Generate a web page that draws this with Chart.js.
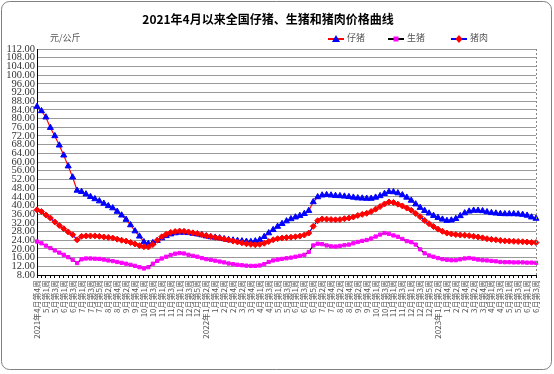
<!DOCTYPE html>
<html>
<head>
<meta charset="utf-8">
<script src="https://cdn.jsdelivr.net/npm/chart.js"></script>
<style>
  html, body { margin: 0; padding: 0; background: #fff; }
  #wrap { width: 554px; height: 374px; }
</style>
</head>
<body>
<div id="wrap"><canvas id="pigChart" width="554" height="374"></canvas></div>
<script>
// Week categories: [year, month, first week, last week]
const monthSpans = [
  [2021, 4, 4, 5], [2021, 5, 1, 4], [2021, 6, 1, 4], [2021, 7, 1, 5], [2021, 8, 1, 4],
  [2021, 9, 1, 5], [2021, 10, 1, 4], [2021, 11, 1, 4], [2021, 12, 1, 5],
  [2022, 1, 1, 4], [2022, 2, 1, 4], [2022, 3, 1, 5], [2022, 4, 1, 4], [2022, 5, 1, 4],
  [2022, 6, 1, 5], [2022, 7, 1, 4], [2022, 8, 1, 4], [2022, 9, 1, 5], [2022, 10, 1, 4],
  [2022, 11, 1, 4], [2022, 12, 1, 5],
  [2023, 1, 1, 4], [2023, 2, 1, 4], [2023, 3, 1, 5], [2023, 4, 1, 4], [2023, 5, 1, 4],
  [2023, 6, 1, 3]
];

const weeks = [];
monthSpans.forEach(([y, m, w0, w1]) => {
  for (let w = w0; w <= w1; w++) {
    const withYear = weeks.length === 0 || (m === 1 && w === 2);
    weeks.push((withYear ? y + '年' : '') + m + '月第' + w + '周');
  }
});

// 仔猪 (yuan/kg)
const pigletPrice = [
  85.5, 83.5, 80.6, 75.8, 72.0, 67.7, 63.1, 58.1, 53.0, 46.9,
  46.3, 45.2, 44.0, 43.0, 42.0, 40.9, 39.8, 38.8, 37.2, 35.5,
  33.5, 31.0, 28.2, 25.8, 23.2, 22.4, 22.8, 23.8, 25.0, 26.0,
  26.8, 27.3, 27.6, 27.6, 27.4, 27.1, 26.8, 26.4, 25.9, 25.5,
  25.3, 25.0, 24.6, 24.2, 24.0, 23.8, 23.6, 23.4, 23.3, 23.6,
  24.2, 25.6, 27.3, 28.8, 30.3, 31.6, 32.8, 33.8, 34.6, 35.3,
  36.2, 37.6, 41.6, 43.9, 44.7, 44.9, 44.7, 44.5, 44.4, 44.2,
  44.0, 43.7, 43.4, 43.3, 43.2, 43.2, 43.7, 44.4, 45.4, 46.3,
  46.2, 45.7, 44.8, 43.7, 42.3, 40.6, 39.0, 37.6, 36.4, 35.3,
  34.4, 33.6, 33.0, 33.2, 33.9, 35.2, 36.5, 37.3, 37.7, 37.7,
  37.5, 37.0, 36.6, 36.4, 36.2, 36.1, 36.1, 36.1, 36.0, 35.8,
  35.4, 34.6, 34.0
];

// 生猪
const hogPrice = [
  23.4, 22.6, 21.5, 20.4, 19.3, 18.3, 17.3, 16.2, 15.0, 13.5,
  15.2, 15.6, 15.6, 15.5, 15.4, 15.1, 14.7, 14.4, 14.0, 13.6,
  13.2, 12.7, 12.2, 11.6, 11.0, 11.6, 13.2, 14.5, 15.6, 16.4,
  17.2, 17.8, 18.1, 17.9, 17.3, 16.8, 16.4, 15.8, 15.3, 15.0,
  14.6, 14.2, 13.8, 13.3, 13.0, 12.7, 12.5, 12.3, 12.2, 12.2,
  12.4, 13.0, 14.0, 14.7, 15.1, 15.4, 15.7, 16.0, 16.4, 16.8,
  17.3, 18.6, 21.6, 22.4, 22.2, 21.6, 21.2, 21.1, 21.4, 21.7,
  22.0, 22.6, 23.2, 23.7, 24.1, 24.8, 25.7, 26.6, 27.3, 26.9,
  26.2, 25.6, 24.6, 23.6, 23.1, 22.0, 19.8, 18.0, 17.0, 16.4,
  15.8, 15.3, 15.0, 14.8, 14.8, 15.2, 15.6, 15.8, 15.5, 15.1,
  14.8, 14.7, 14.5, 14.3, 14.0, 13.9, 13.9, 13.8, 13.8, 13.8,
  13.7, 13.7, 13.6
];

// 猪肉
const porkPrice = [
  38.0, 37.2, 35.6, 34.2, 32.4, 30.8, 29.3, 27.8, 26.5, 24.2,
  25.8, 26.0, 26.0, 26.0, 25.8, 25.5, 25.3, 25.0, 24.5, 24.0,
  23.6, 23.0, 22.3, 21.5, 21.0, 20.9, 22.0, 24.0, 25.6, 26.8,
  27.6, 28.0, 28.2, 28.1, 27.8, 27.4, 27.0, 26.6, 26.1, 25.7,
  25.3, 25.0, 24.6, 24.1, 23.6, 23.2, 22.8, 22.4, 22.1, 21.9,
  22.1, 22.6, 23.4, 24.2, 24.7, 25.0, 25.2, 25.4, 25.6, 25.9,
  26.4, 27.3, 30.4, 33.0, 33.8, 33.7, 33.5, 33.4, 33.5, 33.9,
  34.2, 34.7, 35.4, 35.9, 36.4, 37.2, 38.3, 39.5, 40.7, 41.6,
  41.4, 40.6, 39.8, 38.8, 37.8, 36.3, 34.8, 33.1, 31.6, 30.3,
  29.1, 28.1, 27.3, 26.9, 26.6, 26.4, 26.3, 26.1, 25.8, 25.5,
  25.1, 24.7, 24.4, 24.2, 23.9, 23.7, 23.6, 23.5, 23.4, 23.3,
  23.2, 23.0, 22.9
];

const cjk = '"Noto Sans CJK SC", "Noto Sans", sans-serif';

// legend entries: line colour, marker colour, marker shape
const legendItems = [
  { text: '仔猪', line: '#ff0000', mark: '#0000ff', shape: 'tri', x: 328 },
  { text: '生猪', line: '#000000', mark: '#ff00ff', shape: 'rect', x: 388 },
  { text: '猪肉', line: '#0000ff', mark: '#ff0000', shape: 'diamond', x: 451 }
];

function drawMark(c, shape, x, y, color) {
  c.fillStyle = color;
  c.beginPath();
  if (shape === 'tri') {
    c.moveTo(x, y - 4); c.lineTo(x + 4, y + 3); c.lineTo(x - 4, y + 3);
  } else if (shape === 'rect') {
    c.rect(x - 2.5, y - 2.5, 5, 5);
  } else {
    c.moveTo(x, y - 4); c.lineTo(x + 3.5, y); c.lineTo(x, y + 4); c.lineTo(x - 3.5, y);
  }
  c.closePath();
  c.fill();
}

const decorations = {
  id: 'decorations',
  afterDraw(chart) {
    const c = chart.ctx;
    const area = chart.chartArea;
    c.save();
    // dashed right border of the plot
    c.strokeStyle = '#888';
    c.lineWidth = 1;
    c.setLineDash([2, 2]);
    c.beginPath();
    c.moveTo(Math.round(area.right) + 0.5, area.top);
    c.lineTo(Math.round(area.right) + 0.5, area.bottom);
    c.stroke();
    c.setLineDash([]);

    // unit
    c.font = '9px ' + cjk;
    c.fillStyle = '#555';
    c.textBaseline = 'middle';
    c.textAlign = 'left';
    c.fillText('元/公斤', 50, 38);

    // legend
    legendItems.forEach(it => {
      c.strokeStyle = it.line;
      c.lineWidth = 2;
      c.beginPath();
      c.moveTo(it.x, 39);
      c.lineTo(it.x + 16, 39);
      c.stroke();
      drawMark(c, it.shape, it.x + 8, 39, it.mark);
      c.fillStyle = '#555';
      c.fillText(it.text, it.x + 19, 38);
    });

    // outer rounded frame
    c.strokeStyle = '#808080';
    c.lineWidth = 1;
    c.beginPath();
    c.roundRect(1.5, 1.5, 550, 368, 8);
    c.stroke();
    c.restore();
  }
};

const ctx = document.getElementById('pigChart').getContext('2d');

new Chart(ctx, {
  type: 'line',
  data: {
    labels: weeks,
    datasets: [
      {
        label: '仔猪',
        data: pigletPrice,
        borderColor: '#ff0000',
        borderWidth: 1.2,
        pointStyle: 'triangle',
        pointRadius: 3.5,
        pointBackgroundColor: '#0000ff',
        pointBorderColor: '#0000ff',
        pointBorderWidth: 1,
        tension: 0,
        order: 1
      },
      {
        label: '生猪',
        data: hogPrice,
        borderColor: '#000000',
        borderWidth: 1.2,
        pointStyle: 'rect',
        pointRadius: 2.3,
        pointBackgroundColor: '#ff00ff',
        pointBorderColor: '#ff00ff',
        pointBorderWidth: 1,
        tension: 0,
        order: 2
      },
      {
        label: '猪肉',
        data: porkPrice,
        borderColor: '#0000ff',
        borderWidth: 1.2,
        pointStyle: 'rectRot',
        pointRadius: 3,
        pointBackgroundColor: '#ff0000',
        pointBorderColor: '#ff0000',
        pointBorderWidth: 1,
        tension: 0,
        order: 0
      }
    ]
  },
  options: {
    responsive: false,
    animation: false,
    events: [],
    layout: { padding: { left: 0, right: 18, top: 0, bottom: 0 } },
    plugins: {
      legend: { display: false },
      tooltip: { enabled: false },
      title: {
        display: true,
        text: '2021年4月以来全国仔猪、生猪和猪肉价格曲线',
        color: '#000',
        font: { family: cjk, size: 12, weight: 'bold' },
        padding: { top: 12, bottom: 22.6 }
      }
    },
    scales: {
      x: {
        offset: false,
        grid: { drawOnChartArea: false, drawTicks: true, tickLength: 3, color: '#000' },
        border: { color: '#000' },
        ticks: {
          autoSkip: false,
          maxRotation: 90,
          minRotation: 90,
          padding: 2,
          color: '#555',
          font: { family: cjk, size: 8 },
          callback: (v, i) => i % 2 === 0 ? weeks[i] : ''
        },
        afterFit: s => { s.height = 99; }
      },
      y: {
        min: 8,
        max: 112,
        grid: { color: '#9a9a9a', drawTicks: false },
        border: { color: '#000' },
        ticks: {
          autoSkip: false,
          stepSize: 4,
          padding: 2,
          color: '#333',
          font: { family: '"Liberation Serif", serif', size: 10.5 },
          callback: v => v.toFixed(2)
        },
        afterFit: s => { s.width = 37; }
      }
    }
  },
  plugins: [decorations]
});
</script>
</body>
</html>
